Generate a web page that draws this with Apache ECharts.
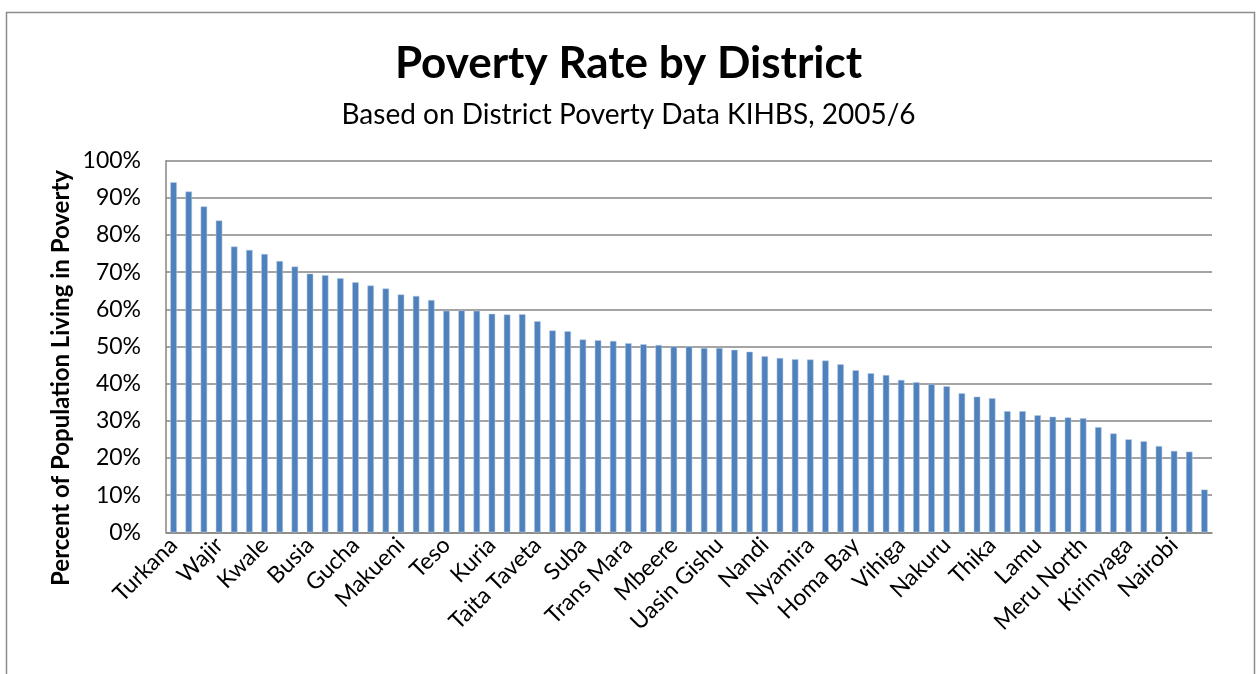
<!DOCTYPE html>
<html>
<head>
<meta charset="utf-8">
<script src="https://cdn.jsdelivr.net/npm/echarts@6/dist/echarts.min.js"></script>
<style>
html,body{margin:0;padding:0;background:#fff;}
#chart{width:1257px;height:674px;}
</style>
</head>
<body>
<div id="chart"></div>
<script>
var districts = [
  "Turkana","Marsabit","Mandera","Wajir","Samburu","Tana River","Kwale","Isiolo","Kilifi",
  "Busia","Mwingi","Kitui","Gucha","Ijara","Malindi","Makueni","Garissa","West Pokot",
  "Teso","Bungoma","Kakamega","Kuria","Butere/Mumias","Migori","Taita Taveta","Rachuonyo","Nyando",
  "Suba","Lugari","Mt. Elgon","Trans Mara","Bondo","Siaya","Mbeere","Tharaka","Kisii Central",
  "Uasin Gishu","Marakwet","Machakos","Nandi","Baringo","Keiyo","Nyamira","Kisumu","Koibatek",
  "Homa Bay","Trans Nzoia","Bomet","Vihiga","Mombasa","Bureti","Nakuru","Narok","Kericho",
  "Thika","Laikipia","Embu","Lamu","Meru Central","Maragua","Meru North","Murang'a","Nyandarua",
  "Kirinyaga","Meru South","Nyeri","Nairobi","Kiambu","Kajiado"
];
var povertyRate = [
  94.2,91.7,87.7,83.9,76.9,76.0,74.9,73.0,71.5,
  69.6,69.2,68.4,67.3,66.4,65.6,64.0,63.6,62.5,
  59.6,59.7,59.6,58.8,58.6,58.7,56.8,54.3,54.1,
  51.9,51.7,51.5,50.9,50.6,50.4,50.0,50.0,49.6,
  49.6,49.1,48.6,47.4,46.9,46.6,46.5,46.2,45.2,
  43.6,42.8,42.3,41.0,40.4,39.9,39.3,37.4,36.5,
  36.1,32.6,32.6,31.5,31.1,30.9,30.7,28.3,26.6,
  25.0,24.5,23.2,21.9,21.7,11.5
];
var titleText = "Poverty Rate by District";
var subtitleText = "Based on District Poverty Data KIHBS, 2005/6";
var yAxisTitle = "Percent of Population Living in Poverty";

var chart = echarts.init(document.getElementById('chart'), null, {renderer:'canvas'});
var FONT = 'Lato, "Open Sans", sans-serif';
chart.setOption({
  animation:false,
  backgroundColor:'#fff',
  title:{
    text:titleText,
    subtext:subtitleText,
    left:'center',
    top:37,
    itemGap:15,
    textStyle:{fontFamily:FONT,fontSize:44,fontWeight:'bold',color:'#000'},
    subtextStyle:{fontFamily:FONT,fontSize:28,color:'#000'}
  },
  graphic:[
    {type:'rect',left:4,top:10,shape:{width:1248,height:700},style:{fill:null,stroke:'#8c8c8c',lineWidth:1.5},silent:true},
    {type:'text',x:61,y:378,rotation:Math.PI/2,style:{text:yAxisTitle,font:'bold 24px '+FONT,fill:'#000',textAlign:'center',textVerticalAlign:'middle'}}
  ],
  grid:{left:166,right:45,top:160.7,bottom:141.7,containLabel:false},
  xAxis:{
    type:'category',
    data:districts,
    axisLine:{lineStyle:{color:'#868686',width:1.5}},
    axisTick:{show:false},
    axisLabel:{interval:2,rotate:45,fontFamily:FONT,fontSize:23,color:'#000',margin:9}
  },
  yAxis:{
    type:'value',min:0,max:100,interval:10,
    axisLine:{show:true,lineStyle:{color:'#868686',width:1.5}},
    axisTick:{show:false},
    splitLine:{lineStyle:{color:'#868686',width:1.5}},
    axisLabel:{formatter:'{value}%',fontFamily:FONT,fontSize:23,color:'#000',margin:25}
  },
  series:[{
    type:'bar',
    data:povertyRate,
    barWidth:6.5,
    itemStyle:{color:'#4F81BD',borderColor:'#b9cde5',borderWidth:0.5}
  }]
});
</script>
</body>
</html>
